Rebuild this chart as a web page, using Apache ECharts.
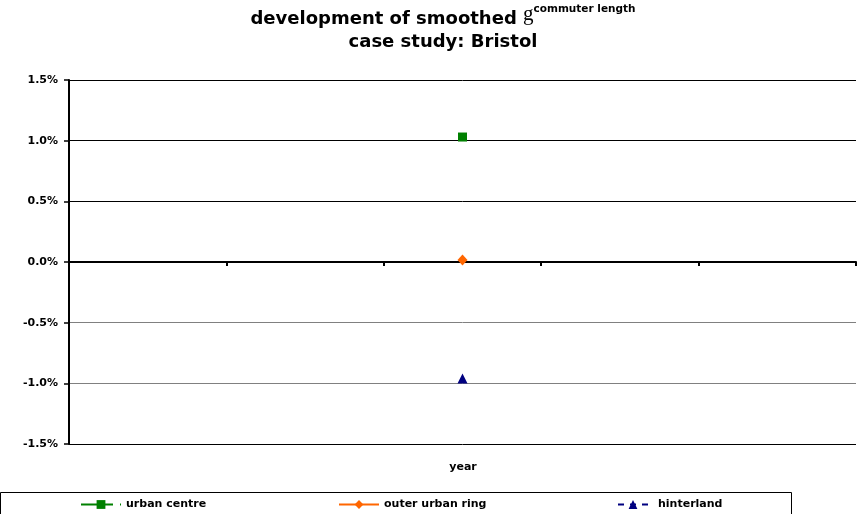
<!DOCTYPE html>
<html>
<head>
<meta charset="utf-8">
<script src="https://cdn.jsdelivr.net/npm/echarts@6/dist/echarts.min.js"></script>
<style>html,body{margin:0;padding:0;background:#fff}#c{width:857px;height:514px}</style>
</head>
<body>
<div id="c"></div>
<script>
const categories = ['p1', 'p2', 'p3', 'p4', 'p5'];
const urbanCentre = [null, null, 1.03, null, null];
const outerUrbanRing = [null, null, 0.016, null, null];
const hinterland = [null, null, -0.96, null, null];
const yTicks = { min: -1.5, max: 1.5, interval: 0.5 };
const seriesNames = ['urban centre', 'outer urban ring', 'hinterland'];
const xAxisTitle = 'year';

const F = '"DejaVu Sans", sans-serif';
const chart = echarts.init(document.getElementById('c'), null, { renderer: 'canvas' });

const legendBase = {
  orient: 'horizontal', top: 499, padding: 0, itemWidth: 40, itemHeight: 11,
  textStyle: { fontFamily: F, fontWeight: 'bold', fontSize: 11, color: '#000' },
  selectedMode: false
};

chart.setOption({
  animation: false,
  backgroundColor: '#fff',
  grid: { left: 69, right: 1, top: 80, bottom: 70, containLabel: false, outerBoundsMode: 'none' },
  xAxis: {
    type: 'category', data: categories, boundaryGap: true,
    axisLine: { onZero: true, lineStyle: { color: '#000', width: 2 } },
    axisTick: { show: true, length: 4, lineStyle: { color: '#000', width: 2 } },
    axisLabel: { show: false },
    splitLine: { show: false }
  },
  yAxis: {
    type: 'value', min: yTicks.min, max: yTicks.max, interval: yTicks.interval,
    axisLine: { show: true, lineStyle: { color: '#000', width: 2 } },
    axisTick: { show: true, length: 5, lineStyle: { color: '#000', width: 1.5 } },
    axisLabel: {
      margin: 11, fontFamily: F, fontWeight: 'bold', fontSize: 11, color: '#000',
      formatter: v => v.toFixed(1) + '%'
    },
    splitLine: { show: true, lineStyle: { color: ['#000', '#808080', '#808080', '#000', '#000', '#000', '#000'], width: 1 } }
  },
  legend: [
    Object.assign({}, legendBase, { left: 80, data: [seriesNames[0]] }),
    Object.assign({}, legendBase, { left: 338, data: [seriesNames[1]] }),
    Object.assign({}, legendBase, { left: 612, data: [seriesNames[2]] })
  ],
  series: [
    {
      name: seriesNames[0], type: 'line', data: urbanCentre, color: '#008000',
      symbol: 'rect', symbolSize: 9, showSymbol: true,
      lineStyle: { width: 3, type: [32, 7, 2, 7] },
      itemStyle: { color: '#008000' }
    },
    {
      name: seriesNames[1], type: 'line', data: outerUrbanRing, color: '#FF6600',
      symbol: 'diamond', symbolSize: [10, 11], showSymbol: true,
      lineStyle: { width: 2.5, type: 'solid' },
      itemStyle: { color: '#FF6600' }
    },
    {
      name: seriesNames[2], type: 'line', data: hinterland, color: '#000080',
      symbol: 'triangle', symbolSize: [10, 10], showSymbol: true,
      lineStyle: { width: 3, type: [6, 6], dashOffset: 7 },
      itemStyle: { color: '#000080' }
    }
  ],
  graphic: [
    {
      type: 'text', x: 443, y: 3.5, silent: true,
      style: {
        text: '{a|development of smoothed }{g|g}{s|commuter length}',
        align: 'center', verticalAlign: 'top',
        rich: {
          a: { fontFamily: F, fontWeight: 'bold', fontSize: 18, lineHeight: 32, fill: '#000' },
          g: { fontFamily: '"Liberation Serif", serif', fontSize: 21, lineHeight: 21, verticalAlign: 'top', fill: '#000' },
          s: { fontFamily: F, fontWeight: 'bold', fontSize: 10.5, lineHeight: 11, verticalAlign: 'top', fill: '#000' }
        }
      }
    },
    {
      type: 'text', x: 443, y: 42.5, silent: true,
      style: {
        text: 'case study: Bristol', align: 'center', verticalAlign: 'middle',
        fontFamily: F, fontWeight: 'bold', fontSize: 18, fill: '#000'
      }
    },
    {
      type: 'text', x: 463, y: 467, silent: true,
      style: {
        text: xAxisTitle, align: 'center', verticalAlign: 'middle',
        fontFamily: F, fontWeight: 'bold', fontSize: 11, fill: '#000'
      }
    },
    {
      type: 'rect', silent: true,
      shape: { x: 0.5, y: 492.5, width: 791, height: 40 },
      style: { fill: 'none', stroke: '#000', lineWidth: 1 }
    }
  ]
});
</script>
</body>
</html>
